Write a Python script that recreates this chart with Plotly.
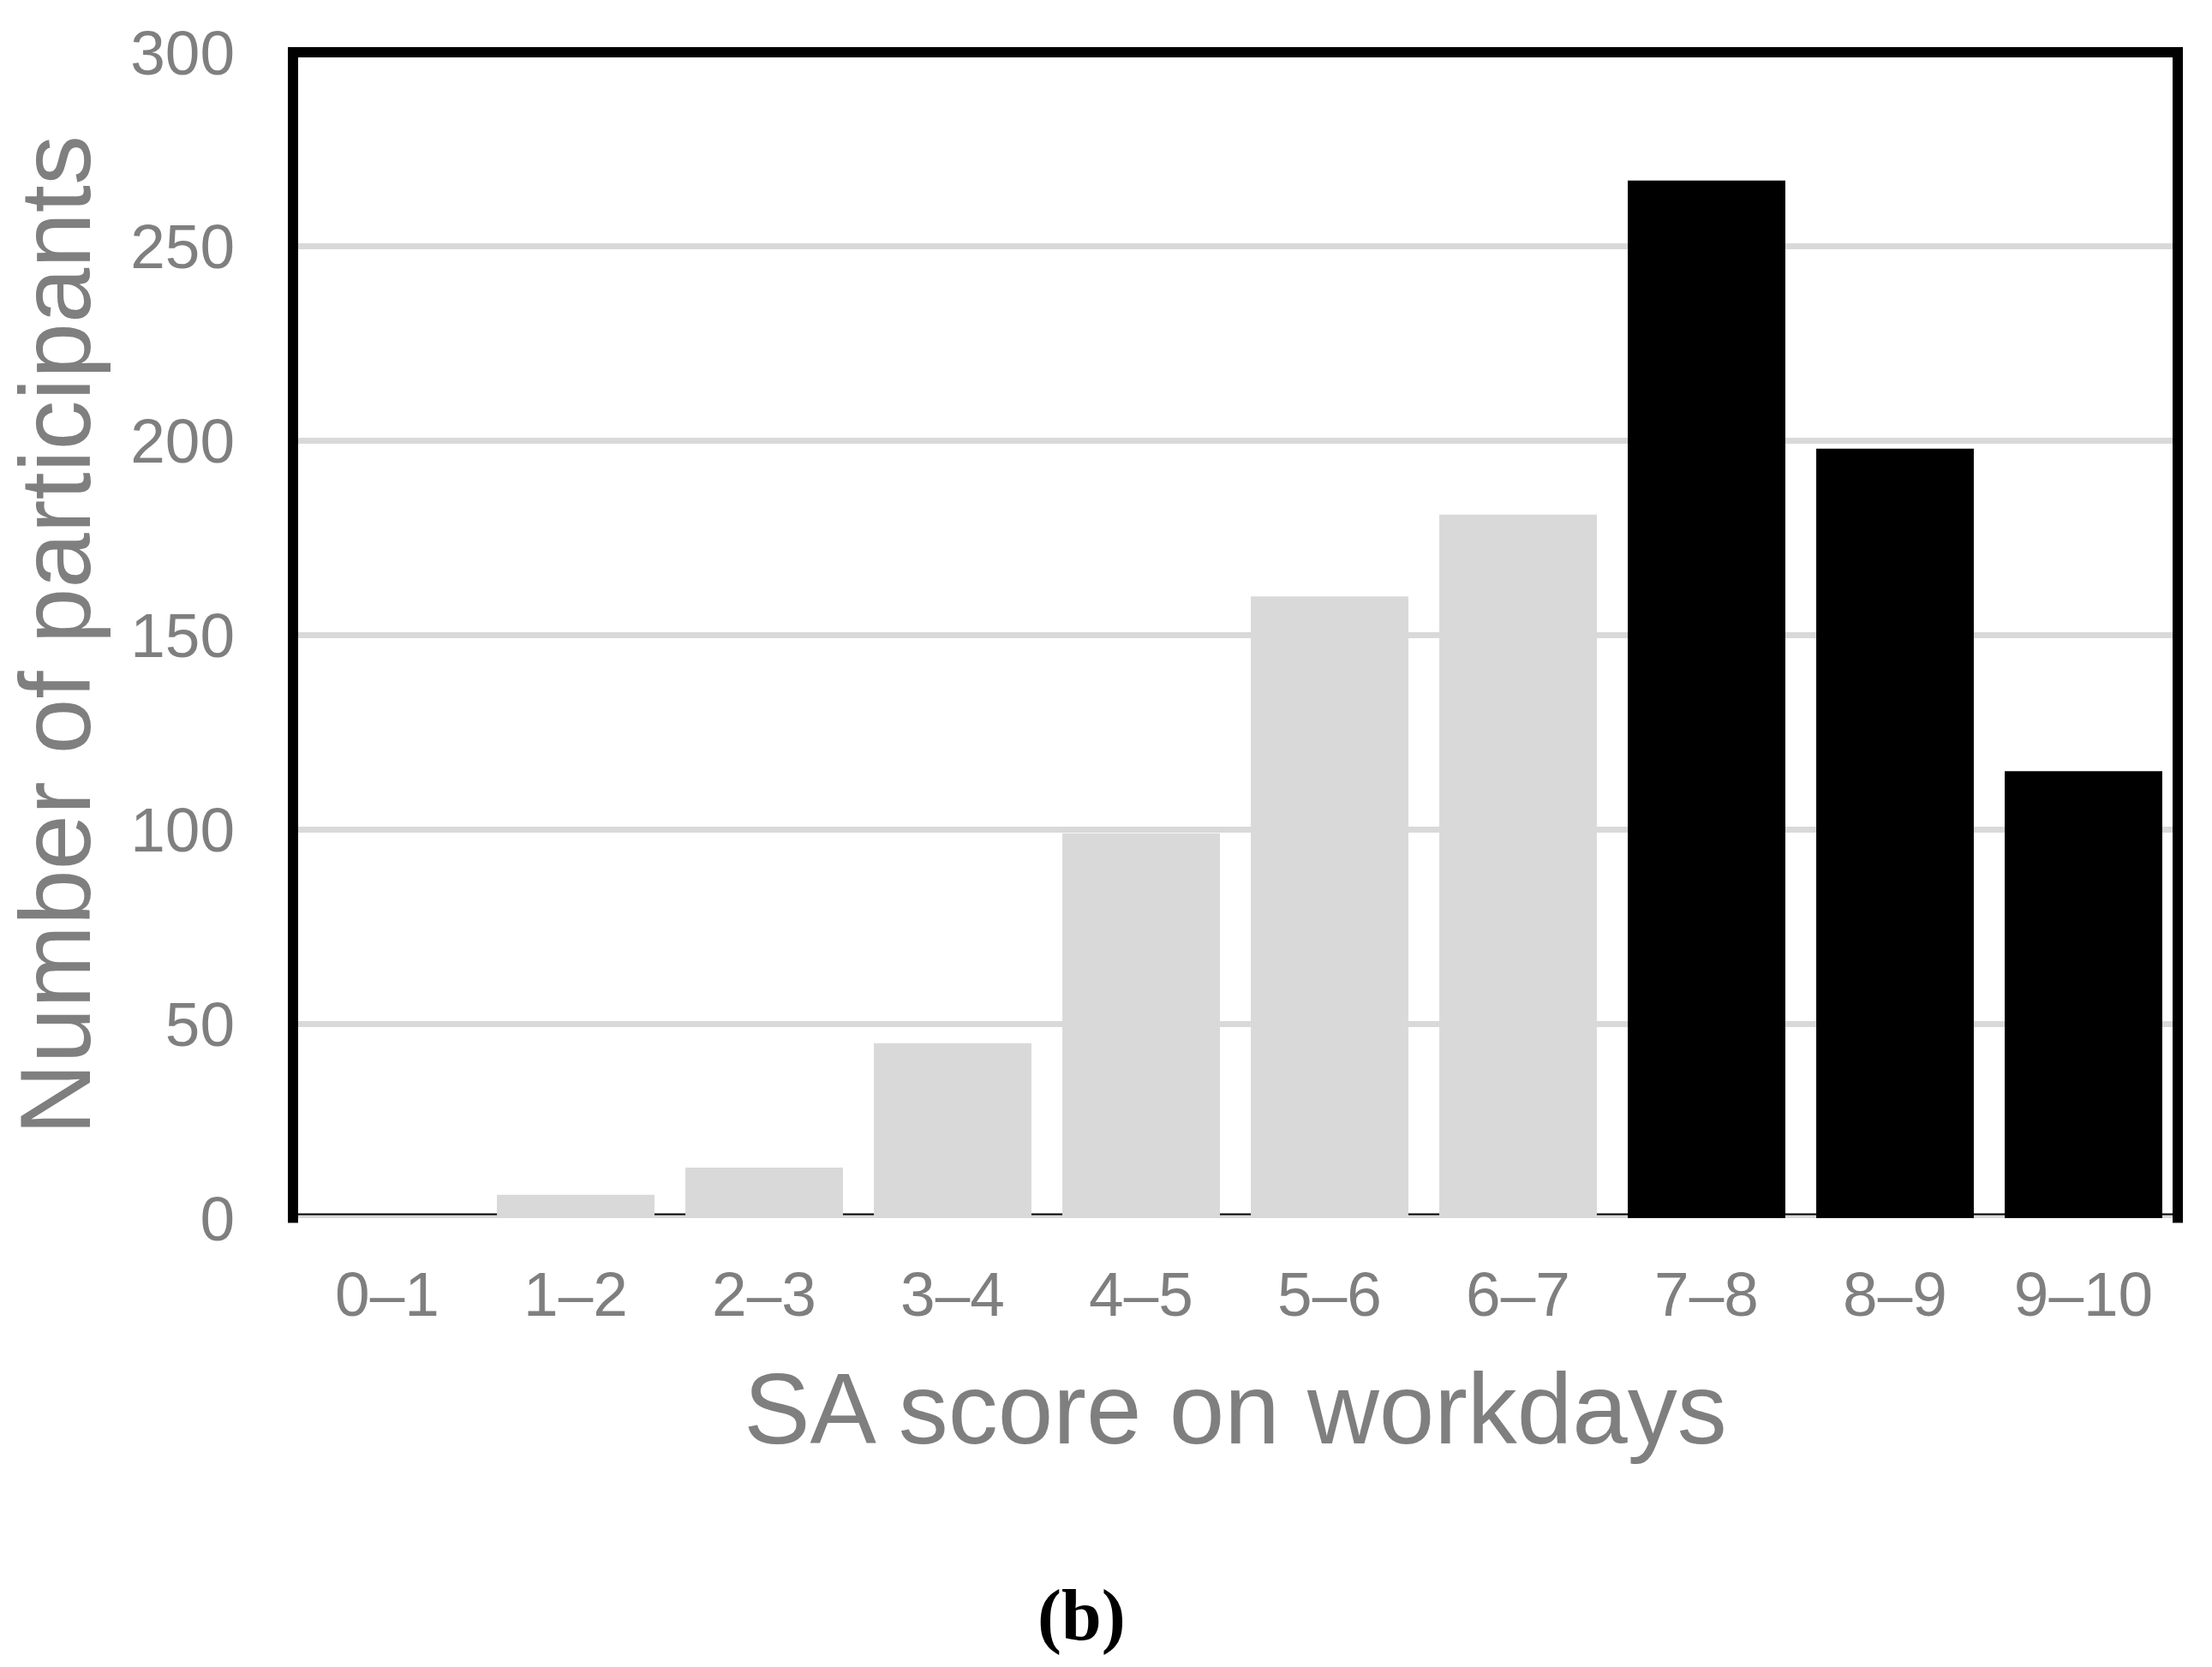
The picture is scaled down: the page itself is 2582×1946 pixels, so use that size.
import plotly.graph_objects as go

# ---- data ----
categories = ["0–1", "1–2", "2–3", "3–4", "4–5", "5–6", "6–7", "7–8", "8–9", "9–10"]
participants = [0, 6, 13, 45, 99, 160, 181, 267, 198, 115]
y_ticks = [0, 50, 100, 150, 200, 250, 300]

# ---- style ----
LIGHT = "#D9D9D9"
DARK = "#000000"
TEXT = "#7F7F7F"
FONT = "Liberation Sans, Arial, sans-serif"
bar_colors = [LIGHT if i < 7 else DARK for i in range(len(categories))]

fig = go.Figure()
fig.add_trace(go.Bar(
    x=categories,
    y=participants,
    marker=dict(color=bar_colors, line=dict(width=0)),
    showlegend=False,
    hoverinfo="x+y",
))

fig.update_layout(
    width=2582,
    height=1946,
    autosize=False,
    margin=dict(l=342, r=40, t=61, b=524, pad=0),
    paper_bgcolor="white",
    plot_bgcolor="white",
    bargap=0.164,
    font=dict(family=FONT, color=TEXT, size=73),
    showlegend=False,
)

fig.update_xaxes(
    type="category",
    showgrid=False,
    zeroline=False,
    showline=False,
    ticks="",
    tickfont=dict(family=FONT, size=73, color=TEXT),
    ticklabelstandoff=40,
    title=dict(text="SA score on workdays", font=dict(family=FONT, size=116, color=TEXT), standoff=53),
)

fig.update_yaxes(
    range=[0, 300],
    tickvals=y_ticks,
    showgrid=True,
    gridcolor=LIGHT,
    gridwidth=7,
    zeroline=False,
    showline=False,
    ticks="",
    tickfont=dict(family=FONT, size=73, color=TEXT),
    ticklabelstandoff=67,
    title=dict(text="Number of participants", font=dict(family=FONT, size=116, color=TEXT), standoff=13),
)

# bottom axis band: black edges with gray baseline
fig.add_shape(type="line", xref="paper", yref="y", x0=0, x1=1, y0=0, y1=0,
              line=dict(color=DARK, width=11), layer="between")
fig.add_shape(type="line", xref="paper", yref="y", x0=0, x1=1, y0=0, y1=0,
              line=dict(color=LIGHT, width=7), layer="between")
# thick frame on top, left, right
fig.add_shape(type="path", xref="paper", yref="paper",
              path="M 0,-0.004 L 0,1 L 1,1 L 1,-0.004",
              line=dict(color=DARK, width=12), layer="above")

fig.add_annotation(
    text="<b>(b)</b>", xref="paper", yref="paper",
    x=(1262 - 342) / 2200, y=-(1886 - 1422.5) / 1361,
    xanchor="center", yanchor="middle", showarrow=False,
    font=dict(family="Liberation Serif, Times New Roman, serif", size=84, color="#000000"),
)

fig.write_html(
    "out.html",
    config={"displayModeBar": False},
    post_script="document.body.style.margin='0';document.body.style.overflow='hidden';",
)
